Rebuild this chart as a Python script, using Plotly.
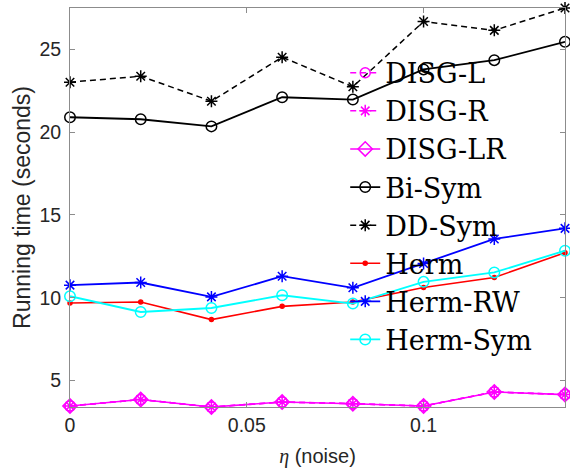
import plotly.graph_objects as go

eta = [0, 0.02, 0.04, 0.06, 0.08, 0.10, 0.12, 0.14]

disg_l = [3.46, 3.85, 3.40, 3.70, 3.60, 3.46, 4.31, 4.15]
disg_r = [3.46, 3.85, 3.40, 3.70, 3.60, 3.46, 4.31, 4.15]
disg_lr = [3.46, 3.85, 3.40, 3.70, 3.60, 3.46, 4.31, 4.15]
bi_sym = [20.90, 20.78, 20.35, 22.11, 21.97, 23.79, 24.35, 25.46]
dd_sym = [23.02, 23.38, 21.87, 24.53, 22.74, 26.68, 26.15, 27.50]
herm = [9.68, 9.74, 8.68, 9.48, 9.74, 10.62, 11.22, 12.72]
herm_rw = [10.76, 10.92, 10.05, 11.30, 10.60, 12.07, 13.55, 14.19]
herm_sym = [10.09, 9.14, 9.38, 10.15, 9.65, 10.96, 11.53, 12.84]

x_ticks = [0, 0.05, 0.1]
x_tick_text = ["0", "0.05", "0.1"]
y_ticks = [5, 10, 15, 20, 25]

series = [
    ("DISG-L", disg_l, "#ff00ff", "6px,4px", "circle-open", 10, 1.6),
    ("DISG-R", disg_r, "#ff00ff", "6px,4px", "asterisk-open", 10, 1.5),
    ("DISG-LR", disg_lr, "#ff00ff", "solid", "diamond-open", 11, 1.6),
    ("Bi-Sym", bi_sym, "#000000", "solid", "circle-open", 10.5, 1.8),
    ("DD-Sym", dd_sym, "#000000", "6px,4px", "asterisk-open", 10, 1.5),
    ("Herm", herm, "#ff0000", "solid", "circle", 4, 1.6),
    ("Herm-RW", herm_rw, "#0000ff", "solid", "asterisk-open", 10, 1.8),
    ("Herm-Sym", herm_sym, "#00ffff", "solid", "circle-open", 10.5, 1.8),
]

fig = go.Figure()
for name, ys, col, dash, sym, msize, lw in series:
    fig.add_trace(go.Scatter(
        x=eta, y=ys, name=name, mode="lines+markers",
        line=dict(color=col, width=lw, dash=dash),
        marker=dict(symbol=sym, size=msize, color=col,
                    line=dict(color=col, width=1.5)),
        cliponaxis=False,
    ))

axis_common = dict(
    showline=True, linecolor="#8c8c8c", linewidth=1, mirror="ticks",
    ticks="inside", ticklen=5, tickcolor="#8c8c8c", tickwidth=1,
    showgrid=False, zeroline=False,
    tickfont=dict(family="Liberation Sans", size=19.5, color="#262626"),
)

fig.update_xaxes(range=[0, 0.14], tickvals=x_ticks, ticktext=x_tick_text,
                 ticklabelstandoff=1,
                 title=dict(text='<span style="font-family:Liberation Serif"><i>η</i></span> (noise)',
                            font=dict(family="Liberation Sans", size=20, color="#262626"),
                            standoff=13),
                 **axis_common)
fig.update_yaxes(range=[3.4, 27.5], tickvals=y_ticks,
                 ticklabelstandoff=4,
                 title=dict(text="Running time (seconds)",
                            font=dict(family="Liberation Sans", size=23, color="#262626"),
                            standoff=2),
                 **axis_common)

fig.update_layout(
    width=570, height=475,
    margin=dict(l=70, r=5, t=8, b=68),
    paper_bgcolor="white", plot_bgcolor="white",
    showlegend=True,
    legend=dict(x=0.556, y=0.898, xanchor="left", yanchor="top",
                bgcolor="rgba(0,0,0,0)", borderwidth=0,
                font=dict(family="DejaVu Serif", size=27, color="#000000"),
                itemwidth=30, tracegroupgap=0),
)

fig.write_html("out.html")
